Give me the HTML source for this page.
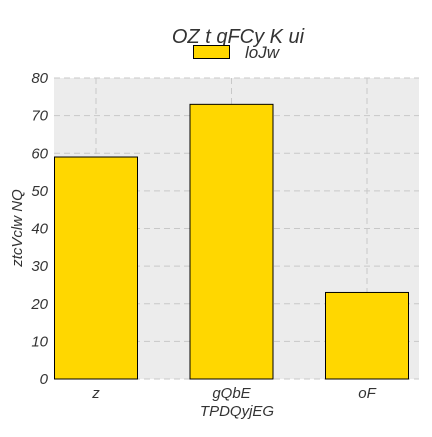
<!DOCTYPE html>
<html><head><meta charset="utf-8"><style>
body{margin:0;background:#fff;}
text{font-family:"Liberation Sans",sans-serif;font-style:italic;fill:#333;}
</style></head><body>
<svg width="432" height="432">
<rect x="54" y="78" width="365" height="301" fill="#ececec"/>
<g id="grid"></g>
<g id="bars"></g>
<g id="ticks"></g>
<text x="238" y="43" font-size="20" text-anchor="middle">OZ t qFCy K ui</text>
<rect x="193.5" y="45.5" width="36" height="13" fill="#ffd700" stroke="#000" stroke-width="1"/>
<text x="245" y="58" font-size="17">loJw</text>
<text x="237" y="416" font-size="15" text-anchor="middle">TPDQyjEG</text>
<text transform="translate(22,228) rotate(-90)" font-size="15" text-anchor="middle">ztcVclw NQ</text>
</svg>
<script>
const categories=["z","gQbE","oF"];
const values=[59,73,23];
const yTicks=[0,10,20,30,40,50,60,70,80];
const NS="http://www.w3.org/2000/svg";
const y=v=>379-v*(301/80);
const x=i=>96+i*135.5;
function mk(t,a,p){const e=document.createElementNS(NS,t);for(const k in a)e.setAttribute(k,a[k]);p.appendChild(e);return e;}
const g=document.getElementById('grid'),b=document.getElementById('bars'),tk=document.getElementById('ticks');
yTicks.forEach(v=>{
 const l=mk('line',{x1:54,x2:419,y1:y(v),y2:y(v),stroke:'#c8c8c8','stroke-dasharray':'6,4'},g);
 
 
 const t=mk('text',{x:48,y:y(v)+5,'font-size':15,'text-anchor':'end'},tk);t.textContent=v;
 
 
});
categories.forEach((c,i)=>{
 const l=mk('line',{x1:x(i),x2:x(i),y1:78,y2:379,stroke:'#c8c8c8','stroke-dasharray':'6,4'},g);
 
 
 const r=mk('rect',{x:x(i)-41.5,y:y(values[i]),width:83,height:379-y(values[i]),fill:'#ffd700',stroke:'#000','stroke-width':1},b);
 
 
 const t=mk('text',{x:x(i),y:398,'font-size':15,'text-anchor':'middle'},tk);t.textContent=c;
 
 
});
</script>
</body></html>
